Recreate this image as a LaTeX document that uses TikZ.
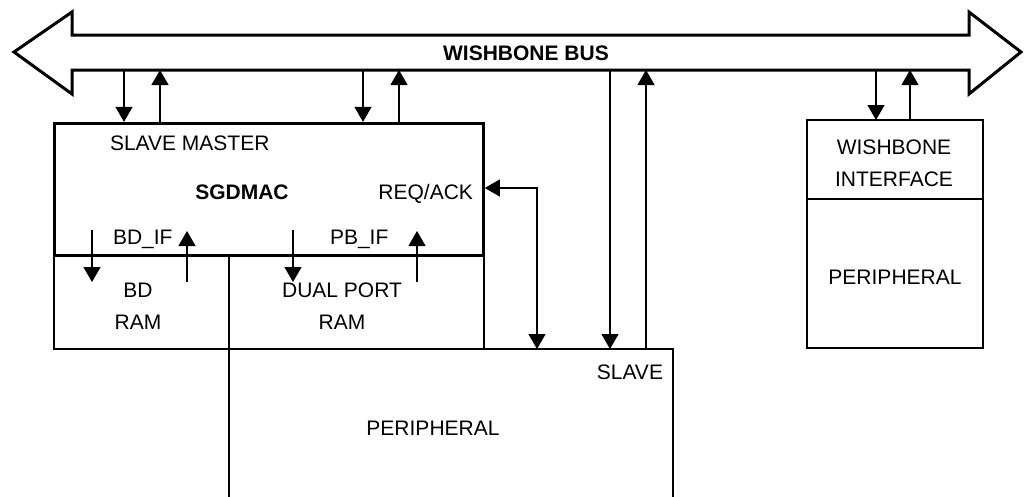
\documentclass[tikz,border=0pt]{standalone}
\usepackage{fontspec}
\setmainfont{Liberation Sans}
\usetikzlibrary{arrows.meta}
\begin{document}
\begin{tikzpicture}[x=1pt,y=-1pt,
  thinline/.style={line width=1.2pt},
  arr/.style={thinline,-{Triangle[length=15pt,width=17pt]}},
  dblarr/.style={thinline,{Triangle[length=15pt,width=17pt]}-{Triangle[length=15pt,width=17pt]}},
  box/.style={draw,thinline,rectangle,inner sep=0pt,outer sep=0pt},
  thickbox/.style={draw,line width=3pt,rectangle,inner sep=0pt,outer sep=1.5pt},
  txt/.style={inner sep=0pt,outer sep=0pt,font=\fontsize{21}{25}\selectfont},
  btxt/.style={inner sep=0pt,outer sep=0pt,font=\fontsize{21}{25}\selectfont\bfseries},
]
\useasboundingbox (0,0) rectangle (1029,496);

% bus
\draw[line width=3pt,line join=miter] (14,52) -- (72,12) -- (72,35) -- (969,35) -- (969,12) -- (1021,52) -- (969,94) -- (969,70) -- (72,70) -- (72,94) -- cycle;
\node[inner sep=0pt,outer sep=0pt,minimum width=897pt,minimum height=35pt] (bus) at (520.5,52.5) {};
\node[btxt,anchor=base] (buslbl) at (526,60.5) {WISHBONE BUS};

% boxes
\node[box,minimum width=444pt,minimum height=170pt] (per1) at (451,434) {};
\node[box,minimum width=175pt,minimum height=94pt] (bdram) at (141.5,302) {};
\node[box,minimum width=255pt,minimum height=94pt] (dpram) at (356.5,302) {};
\node[thickbox,minimum width=429pt,minimum height=131.7pt] (sg) at (268.8,189.2) {};
\node[box,minimum width=176pt,minimum height=79pt] (wbif) at (895,159.5) {};
\node[box,minimum width=176pt,minimum height=149pt] (per2) at (895,273.5) {};

% texts
\node[txt,anchor=base west] (slm) at (110,150.5) {SLAVE MASTER};
\node[btxt,anchor=base] (sgl) at (242,199.5) {SGDMAC};
\node[txt,anchor=base east] (req) at (473,199.5) {REQ/ACK};
\node[txt,anchor=base west] (bdif) at (113,244.5) {BD\_IF};
\node[txt,anchor=base west] (pbif) at (330,244.5) {PB\_IF};
\node[txt,anchor=base] (bd1) at (138,297.5) {BD};
\node[txt,anchor=base] (bd2) at (138,329.5) {RAM};
\node[txt,anchor=base] (dp1) at (342,297.5) {DUAL PORT};
\node[txt,anchor=base] (dp2) at (342,329.5) {RAM};
\node[txt,anchor=base east] (slv) at (663,379.5) {SLAVE};
\node[txt,anchor=base] (p1l) at (433,435.5) {PERIPHERAL};
\node[txt,anchor=base] (wb1) at (894,154.5) {WISHBONE};
\node[txt,anchor=base] (wb2) at (894,186.5) {INTERFACE};
\node[txt,anchor=base] (p2l) at (895,284.5) {PERIPHERAL};

% x positions
\coordinate (xa) at (124,0);
\coordinate (xb) at (160,0);
\coordinate (xc) at (363,0);
\coordinate (xd) at (399,0);
\coordinate (xe) at (610,0);
\coordinate (xf) at (646,0);
\coordinate (xg) at (876,0);
\coordinate (xh) at (910,0);
\coordinate (rq) at (537,188);

% bus connections
\draw[arr] (bus.south -| xa) -- (sg.north -| xa);
\draw[arr] (sg.north -| xb) -- (bus.south -| xb);
\draw[arr] (bus.south -| xc) -- (sg.north -| xc);
\draw[arr] (sg.north -| xd) -- (bus.south -| xd);
\draw[arr] (bus.south -| xe) -- (per1.north -| xe);
\draw[arr] (per1.north -| xf) -- (bus.south -| xf);
\draw[arr] (bus.south -| xg) -- (wbif.north -| xg);
\draw[arr] (wbif.north -| xh) -- (bus.south -| xh);

% req/ack
\draw[dblarr] (sg.east |- rq) -| (rq |- per1.north);

% internal interfaces
\coordinate (i1a) at (92,230);
\coordinate (i1b) at (92,282);
\coordinate (i2a) at (187,282);
\coordinate (i2b) at (187,231);
\coordinate (i3a) at (293,230);
\coordinate (i3b) at (293,282);
\coordinate (i4a) at (417,282);
\coordinate (i4b) at (417,231);
\draw[arr] (i1a) -- (i1b);
\draw[arr] (i2a) -- (i2b);
\draw[arr] (i3a) -- (i3b);
\draw[arr] (i4a) -- (i4b);
\end{tikzpicture}
\end{document}
